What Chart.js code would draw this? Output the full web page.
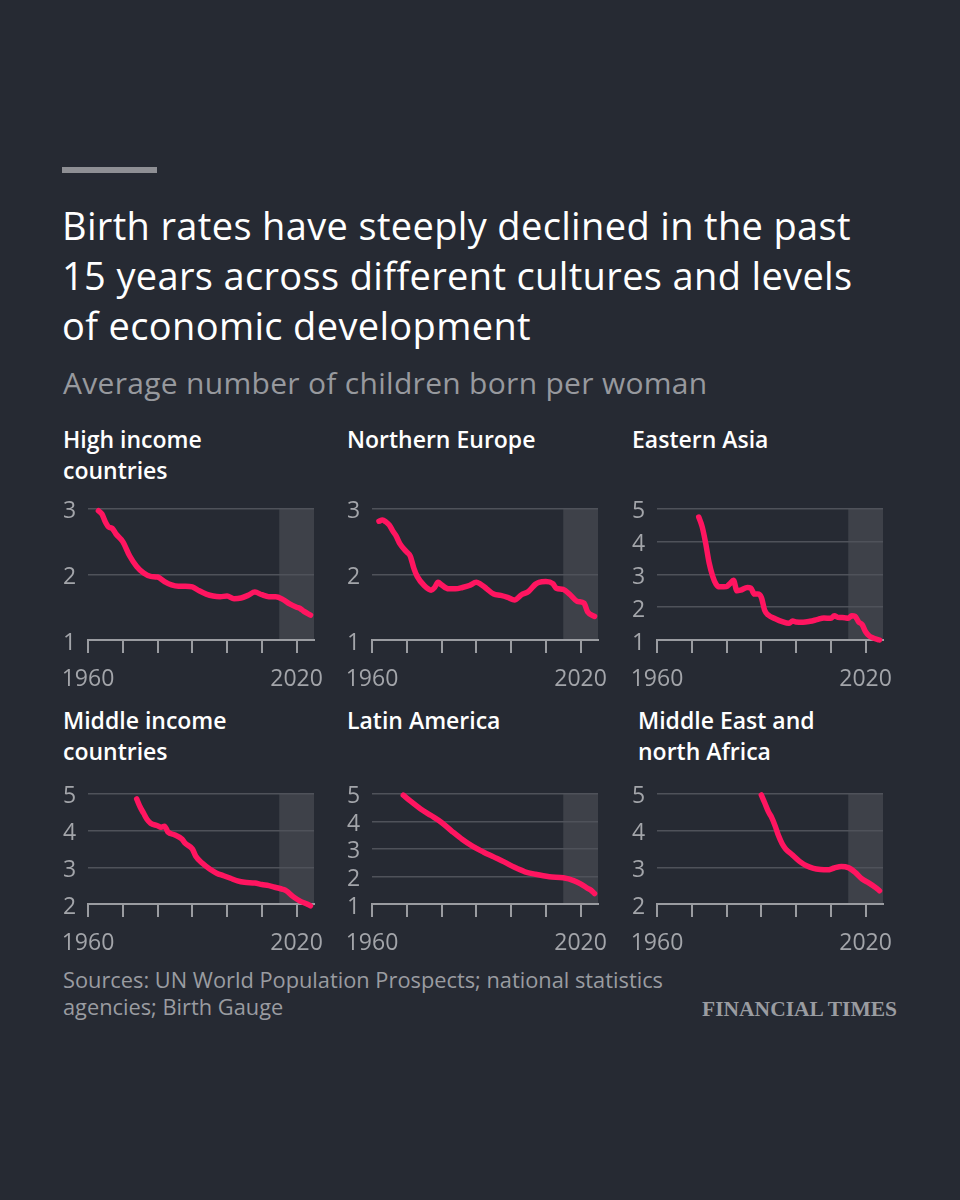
<!DOCTYPE html>
<html lang="en">
<head>
<meta charset="UTF-8">
<title>Birth rates</title>
<script src="https://cdn.jsdelivr.net/npm/chart.js@4.4.1/dist/chart.umd.min.js"></script>
<style>
  body { margin: 0; background: #262a33; }
  #page { position: relative; width: 960px; height: 1200px; background: #262a33; font-family: "Open Sans", Lato, sans-serif; overflow: hidden; }
  .bar { position: absolute; left: 62px; top: 167px; width: 95px; height: 6px; background: #8e8f94; }
  h1 { position: absolute; left: 62px; top: 200px; margin: 0; width: 890px; font-weight: 400; font-size: 38px; letter-spacing: 0.35px; line-height: 50px; color: #ffffff; }
  .sub { position: absolute; left: 63px; top: 366px; font-size: 30px; letter-spacing: 0.3px; line-height: 34px; color: #97999e; }
  .ptitle { position: absolute; font-size: 23px; font-weight: 600; line-height: 31px; color: #ffffff; }
  .panel { position: absolute; }
  .source { position: absolute; left: 63px; top: 966px; font-size: 21.8px; line-height: 27px; color: #9a9ca1; }
  .ft { position: absolute; right: 63px; top: 997px; font-family: "Liberation Serif", "DejaVu Serif", serif; font-weight: 700; font-size: 21.5px; color: #9a9ca1; }
</style>
</head>
<body>
<div id="page">
  <div class="bar"></div>
  <h1>Birth rates have steeply declined in the past<br>15 years across different cultures and levels<br>of economic development</h1>
  <div class="sub">Average number of children born per woman</div>
  <div id="panels"></div>
  <div class="source">Sources: UN World Population Prospects; national statistics<br>agencies; Birth Gauge</div>
  <div class="ft">FINANCIAL TIMES</div>
</div>
<script>
    // 패널 제목
    var titles = [
        'High income<br>countries',
        'Northern Europe',
        'Eastern Asia',
        'Middle income<br>countries',
        'Latin America',
        'Middle East and<br>north Africa'
    ];

    // y축 범위
    var yMins = [1, 1, 1, 2, 1, 2];
    var yMaxs = [3, 3, 5, 5, 5, 5];

    // 음영 구간 (최근 15년 전후)
    var shadeFrom = 2015;
    var shadeTo = 2025;
    var xLabels = [1960, 2020];

    var highYears = [1963, 1964, 1965, 1966, 1967, 1968, 1970, 1972, 1974, 1976, 1978, 1980, 1982, 1984, 1986, 1988, 1990, 1992, 1994, 1996, 1998, 2000, 2002, 2004, 2006, 2008, 2010, 2012, 2014, 2016, 2018, 2020, 2021, 2022, 2024];
    var highValues = [2.97, 2.92, 2.80, 2.72, 2.70, 2.62, 2.50, 2.28, 2.12, 2.02, 1.97, 1.96, 1.89, 1.84, 1.82, 1.82, 1.81, 1.75, 1.70, 1.67, 1.66, 1.67, 1.63, 1.64, 1.68, 1.73, 1.69, 1.66, 1.66, 1.62, 1.55, 1.50, 1.48, 1.44, 1.38];

    var northYears = [1962, 1963, 1964, 1965, 1966, 1967, 1968, 1970, 1971, 1972, 1973, 1975, 1977, 1978, 1979, 1980, 1982, 1984, 1986, 1988, 1990, 1991, 1993, 1995, 1997, 1999, 2001, 2003, 2005, 2007, 2008, 2010, 2012, 2013, 2015, 2017, 2019, 2021, 2022, 2024];
    var northValues = [2.81, 2.83, 2.80, 2.75, 2.66, 2.58, 2.47, 2.34, 2.28, 2.10, 1.97, 1.83, 1.76, 1.80, 1.88, 1.84, 1.78, 1.78, 1.80, 1.83, 1.88, 1.86, 1.78, 1.70, 1.68, 1.65, 1.61, 1.69, 1.74, 1.85, 1.88, 1.89, 1.86, 1.79, 1.77, 1.69, 1.59, 1.56, 1.43, 1.36];

    var eastYears = [1972, 1973, 1974, 1975, 1976, 1977, 1978, 1980, 1981, 1982, 1983, 1984, 1986, 1987, 1988, 1989, 1990, 1991, 1992, 1994, 1996, 1998, 1999, 2000, 2002, 2004, 2006, 2008, 2010, 2011, 2012, 2014, 2015, 2016, 2017, 2018, 2019, 2020, 2021, 2022, 2024];
    var eastValues = [4.75, 4.45, 3.95, 3.35, 2.95, 2.70, 2.62, 2.63, 2.72, 2.82, 2.50, 2.52, 2.60, 2.58, 2.40, 2.40, 2.30, 1.90, 1.76, 1.65, 1.56, 1.51, 1.58, 1.55, 1.54, 1.57, 1.62, 1.67, 1.66, 1.74, 1.69, 1.68, 1.66, 1.74, 1.72, 1.55, 1.47, 1.25, 1.13, 1.07, 1.00];

    var middleYears = [1974, 1975, 1976, 1977, 1978, 1980, 1981, 1982, 1983, 1985, 1987, 1988, 1990, 1991, 1993, 1995, 1997, 1999, 2001, 2003, 2005, 2008, 2010, 2012, 2014, 2016, 2017, 2019, 2021, 2023, 2024];
    var middleValues = [4.86, 4.64, 4.47, 4.30, 4.20, 4.13, 4.09, 4.12, 3.96, 3.88, 3.77, 3.65, 3.50, 3.30, 3.10, 2.95, 2.84, 2.77, 2.70, 2.63, 2.59, 2.57, 2.53, 2.50, 2.45, 2.40, 2.36, 2.20, 2.08, 2.00, 1.95];

    var latamYears = [1969, 1971, 1974, 1977, 1980, 1983, 1986, 1989, 1992, 1995, 1998, 2001, 2004, 2007, 2011, 2015, 2018, 2020, 2022, 2023, 2024];
    var latamValues = [4.95, 4.74, 4.45, 4.21, 3.96, 3.64, 3.34, 3.09, 2.89, 2.71, 2.53, 2.33, 2.17, 2.08, 1.99, 1.95, 1.85, 1.73, 1.57, 1.50, 1.38];

    var menaYears = [1990, 1991, 1992, 1993, 1994, 1995, 1996, 1997, 1999, 2001, 2003, 2005, 2007, 2009, 2011, 2013, 2015, 2017, 2019, 2021, 2023, 2024];
    var menaValues = [4.97, 4.75, 4.52, 4.35, 4.12, 3.85, 3.64, 3.50, 3.33, 3.16, 3.04, 2.97, 2.94, 2.93, 2.98, 3.02, 2.99, 2.86, 2.68, 2.57, 2.44, 2.36];

    var allYears = [highYears, northYears, eastYears, middleYears, latamYears, menaYears];
    var allValues = [highValues, northValues, eastValues, middleValues, latamValues, menaValues];

    var lineColor = '#ff1560';
    var gridColor = '#4f525a';
    var axisColor = '#9a9ca1';
    var labelColor = '#a3a5aa';
    var shadeColor = '#3e4149';
    var tickFont = { family: 'Open Sans', size: 23 };

    // 음영 플러그인
    var shadePlugin = {
        id: 'shade',
        beforeDraw: function(chart) {
            var area = chart.chartArea;
            var x = chart.scales.x;
            var left = x.getPixelForValue(shadeFrom);
            var right = x.getPixelForValue(shadeTo);
            var ctx = chart.ctx;
            ctx.save();
            ctx.fillStyle = shadeColor;
            ctx.fillRect(left, area.top, right - left, area.bottom - area.top);
            ctx.restore();
        }
    };

    function toPoints(years, values) {
        var pts = [];
        years.forEach(function(y, i) {
            pts.push({ x: y, y: values[i] });
        });
        return pts;
    }

    function createChart(idx) {
        var col = idx % 3;
        var row = Math.floor(idx / 3);
        var left = [60, 344, 629][col];
        var top = [495, 780][row];
        var height = [200, 179][row];
        var titleTop = [424, 705][row];
        var titleShift = idx == 5 ? 9 : 3;  // 마지막 패널 제목은 조금 오른쪽

        var holder = document.getElementById('panels');

        var t = document.createElement('div');
        t.className = 'ptitle';
        t.style.left = (left + titleShift) + 'px';
        t.style.top = titleTop + 'px';
        t.innerHTML = titles[idx];
        holder.appendChild(t);

        var wrap = document.createElement('div');
        wrap.className = 'panel';
        wrap.style.left = left + 'px';
        wrap.style.top = top + 'px';
        wrap.style.width = '270px';
        wrap.style.height = height + 'px';
        var canvas = document.createElement('canvas');
        canvas.style.width = '270px';
        canvas.style.height = height + 'px';
        wrap.appendChild(canvas);
        holder.appendChild(wrap);

        var yMin = yMins[idx];

        return new Chart(canvas.getContext('2d'), {
            type: 'line',
            data: {
                datasets: [{
                    data: toPoints(allYears[idx], allValues[idx]),
                    borderColor: lineColor,
                    borderWidth: 5.5,
                    borderCapStyle: 'round',
                    borderJoinStyle: 'round',
                    cubicInterpolationMode: 'monotone',
                    pointRadius: 0,
                    fill: false,
                    clip: false
                }]
            },
            options: {
                responsive: false,
                animation: false,
                events: [],
                layout: { padding: { top: [13, 12][row], right: 16, left: 3, bottom: 0 } },
                plugins: { legend: { display: false }, tooltip: { enabled: false } },
                scales: {
                    x: {
                        type: 'linear',
                        min: 1960,
                        max: 2025,
                        afterFit: function(scale) {
                            scale.height = 55;
                            scale.paddingLeft = 0;
                            scale.paddingRight = 0;
                        },
                        border: { display: true, color: axisColor, width: 2 },
                        grid: { drawOnChartArea: false, drawTicks: true, tickLength: 13, color: axisColor, lineWidth: 2 },
                        ticks: {
                            stepSize: 10,
                            includeBounds: false,
                            autoSkip: false,
                            maxRotation: 0,
                            padding: 13,
                            color: labelColor,
                            font: tickFont,
                            callback: function(v) { return xLabels.indexOf(v) >= 0 ? String(v) : ''; }
                        }
                    },
                    y: {
                        min: yMin,
                        max: yMaxs[idx],
                        afterFit: function(scale) { scale.width = 25; },
                        border: { display: false },
                        grid: {
                            drawTicks: false,
                            lineWidth: 1.5,
                            color: function(c) { return c.tick && c.tick.value === yMin ? 'rgba(0,0,0,0)' : gridColor; }
                        },
                        ticks: {
                            stepSize: 1,
                            autoSkip: false,
                            padding: 0,
                            crossAlign: 'far',
                            labelOffset: 3,
                            color: labelColor,
                            font: tickFont
                        }
                    }
                }
            },
            plugins: [shadePlugin]
        });
    }

    for (var i = 0; i < 6; i++) {
        createChart(i);
    }
</script>
</body>
</html>
